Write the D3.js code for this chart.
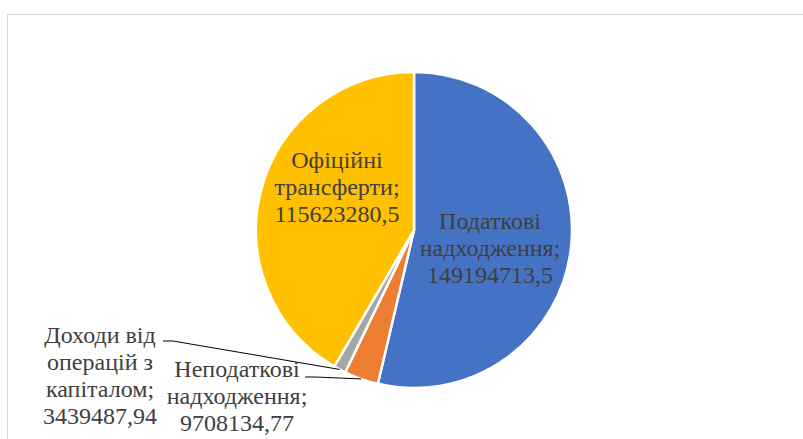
<!DOCTYPE html>
<html>
<head>
<meta charset="utf-8">
<script src="https://cdn.jsdelivr.net/npm/d3@7"></script>
<style>
  body { margin: 0; background: #fff; }
  svg { display: block; }
</style>
</head>
<body>
<div id="chart"></div>
<script>
  // data
  var categories = ['Податкові надходження', 'Неподаткові надходження', 'Доходи від операцій з капіталом', 'Офіційні трансферти'];
  var values = [149194713.5, 9708134.77, 3439487.94, 115623280.5];
  var valueLabels = ['149194713,5', '9708134,77', '3439487,94', '115623280,5'];
  var labelLines = [
    ['Податкові', 'надходження;'],
    ['Неподаткові', 'надходження;'],
    ['Доходи від', 'операцій з', 'капіталом;'],
    ['Офіційні', 'трансферти;']
  ];
  var colours = ['#4472c4', '#ed7d31', '#a5a5a5', '#ffc000'];

  // layout of labels (x centre, first baseline, leader start)
  var labelPos = [
    { x: 490, y: 229 },
    { x: 237, y: 377, lx: 305, ly: 377 },
    { x: 100, y: 343, lx: 163, ly: 341 },
    { x: 337, y: 168 }
  ];

  var width = 803, height = 439;
  var cx = 414, cy = 230, r = 158;
  var lineH = 27;

  var svg = d3.select('#chart')
    .append('svg')
    .attr('width', width)
    .attr('height', height);

  // chart frame
  svg.append('rect')
    .attr('x', 7.5).attr('y', 14.5)
    .attr('width', 900).attr('height', 500)
    .attr('fill', 'none')
    .attr('stroke', '#d9d9d9');

  var pie = d3.pie().sort(null).value(function(d) { return d; });
  var arcs = pie(values);

  var arc = d3.arc().innerRadius(0).outerRadius(r);
  var edge = d3.arc().innerRadius(r).outerRadius(r);

  var g = svg.append('g').attr('transform', 'translate(' + cx + ',' + cy + ')');

  g.selectAll('path.slice')
    .data(arcs)
    .enter().append('path')
    .attr('class', 'slice')
    .attr('d', arc)
    .attr('fill', function(d, i) { return colours[i]; })
    .attr('stroke', '#fff')
    .attr('stroke-width', 2.5)
    .attr('stroke-linejoin', 'round');

  // leader lines for small slices
  arcs.forEach(function(d, i) {
    var p = labelPos[i];
    if (p.lx === undefined) return;
    var c = edge.centroid(d);
    svg.append('polyline')
      .attr('points', [p.lx, p.ly, p.lx + 10, p.ly, cx + c[0], cy + c[1]].join(' '))
      .attr('fill', 'none')
      .attr('stroke', '#000')
      .attr('stroke-width', 1);
  });

  // labels, one text per line
  arcs.forEach(function(d, i) {
    var p = labelPos[i];
    var lines = labelLines[i].concat([valueLabels[i]]);
    lines.forEach(function(s, j) {
      svg.append('text')
        .attr('x', p.x)
        .attr('y', p.y + j * lineH)
        .attr('text-anchor', 'middle')
        .attr('font-family', '"Times New Roman"')
        .attr('font-size', 24)
        .attr('fill', '#404040')
        .text(s);
    });
  });
</script>
</body>
</html>
